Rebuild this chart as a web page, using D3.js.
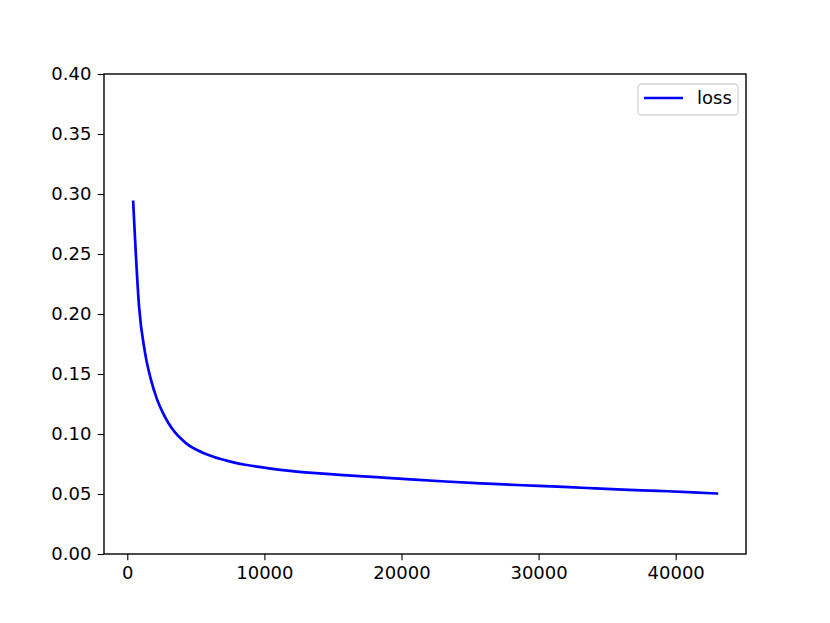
<!DOCTYPE html>
<html>
<head>
<meta charset="utf-8">
<script src="https://cdn.jsdelivr.net/npm/d3@7"></script>
<style>
  body { margin: 0; background: #fff; }
  svg { display: block; }
  text { font-family: "DejaVu Sans", sans-serif; }
</style>
</head>
<body>
<svg id="chart" width="830" height="623"></svg>
<script>
const steps = [430, 860, 1290, 1720, 2150, 2580, 3010, 3440, 3870, 4300, 4730, 5160, 5590, 6020, 6450, 6880, 7310, 7740, 8600, 9460, 10320, 12040, 13760, 15480, 17200, 18920, 20640, 23220, 25800, 28380, 30960, 33540, 36120, 38700, 41280, 43000];
const lossValues = [0.2935, 0.206, 0.168, 0.1455, 0.1295, 0.1180, 0.1090, 0.1020, 0.0966, 0.0922, 0.0888, 0.0862, 0.0840, 0.0820, 0.0803, 0.0789, 0.0776, 0.0764, 0.0744, 0.0728, 0.0714, 0.0691, 0.0674, 0.0660, 0.0647, 0.0635, 0.0622, 0.0604, 0.0588, 0.0575, 0.0563, 0.0550, 0.0537, 0.0526, 0.0514, 0.0504];
const xTicks = [0, 10000, 20000, 30000, 40000];
const yTicks = [0.00, 0.05, 0.10, 0.15, 0.20, 0.25, 0.30, 0.35, 0.40];
const seriesName = "loss";

const svg = d3.select("#chart");
const m = { left: 104, right: 746, top: 74, bottom: 554 };
const fontSize = 18;

const xMin = d3.min(steps), xMax = d3.max(steps);
const pad = (xMax - xMin) * 0.05;
const x = d3.scaleLinear().domain([xMin - pad, xMax + pad]).range([m.left, m.right]);
const y = d3.scaleLinear().domain([0, 0.4]).range([m.bottom, m.top]);

const data = steps.map((s, i) => ({ s, v: lossValues[i] }));

// line
svg.append("path")
  .datum(data)
  .attr("fill", "none")
  .attr("stroke", "#0000ff")
  .attr("stroke-width", 2.7)
  .attr("stroke-linejoin", "round")
  .attr("stroke-linecap", "square")
  .attr("d", d3.line().x(d => x(d.s)).y(d => y(d.v)).curve(d3.curveMonotoneX));

// axes
const xAxis = d3.axisBottom(x).tickValues(xTicks).tickFormat(d3.format("d")).tickSize(6.3).tickPadding(6.3);
const yAxis = d3.axisLeft(y).tickValues(yTicks).tickFormat(d3.format(".2f")).tickSize(6.3).tickPadding(6.3);

const gx = svg.append("g").attr("transform", `translate(0,${m.bottom})`).call(xAxis);
const gy = svg.append("g").attr("transform", `translate(${m.left},0)`).call(yAxis);
[gx, gy].forEach(g => {
  g.select(".domain").remove();
  g.selectAll(".tick line").attr("stroke", "#000").attr("stroke-width", 1.1);
  g.selectAll(".tick text").attr("fill", "#000").style("font-size", fontSize + "px").style("font-family", "DejaVu Sans, sans-serif");
});

// frame
svg.append("rect")
  .attr("x", m.left).attr("y", m.top)
  .attr("width", m.right - m.left).attr("height", m.bottom - m.top)
  .attr("fill", "none").attr("stroke", "#000").attr("stroke-width", 1.4);

// legend
const lg = svg.append("g");
lg.append("rect")
  .attr("x", 638).attr("y", 84).attr("width", 100).attr("height", 31)
  .attr("rx", 3.5).attr("ry", 3.5)
  .attr("fill", "#fff").attr("fill-opacity", 0.8)
  .attr("stroke", "#d4d4d4").attr("stroke-width", 1.3);
lg.append("line")
  .attr("x1", 644).attr("x2", 683).attr("y1", 98).attr("y2", 98)
  .attr("stroke", "#0000ff").attr("stroke-width", 2.7);
lg.append("text")
  .attr("x", 697).attr("y", 98).attr("dy", "0.35em")
  .style("font-size", fontSize + "px")
  .attr("fill", "#000")
  .text(seriesName);
</script>
</body>
</html>
